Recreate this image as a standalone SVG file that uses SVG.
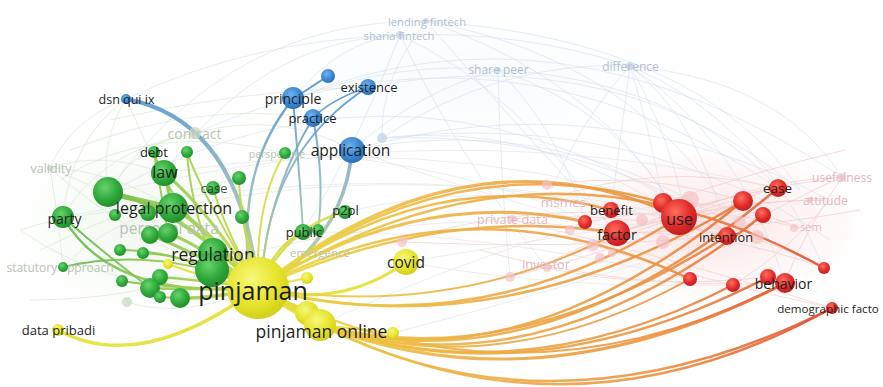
<svg xmlns="http://www.w3.org/2000/svg" width="883" height="387" viewBox="0 0 883 387">
<defs>
<radialGradient id="nG" cx="0.4" cy="0.35" r="0.7"><stop offset="0" stop-color="#66d46a"/><stop offset="0.6" stop-color="#2fa83b"/><stop offset="1" stop-color="#1e8a2a"/></radialGradient>
<radialGradient id="nY" cx="0.4" cy="0.35" r="0.7"><stop offset="0" stop-color="#f8f77a"/><stop offset="0.6" stop-color="#e6e42c"/><stop offset="1" stop-color="#cfcc1c"/></radialGradient>
<radialGradient id="nB" cx="0.4" cy="0.35" r="0.7"><stop offset="0" stop-color="#70b2ee"/><stop offset="0.6" stop-color="#3a86d2"/><stop offset="1" stop-color="#286bb4"/></radialGradient>
<radialGradient id="nR" cx="0.4" cy="0.35" r="0.7"><stop offset="0" stop-color="#ff6e5e"/><stop offset="0.6" stop-color="#e22a2a"/><stop offset="1" stop-color="#b91c1c"/></radialGradient>
<radialGradient id="hR"><stop offset="0" stop-color="#fbdede" stop-opacity="0.8"/><stop offset="1" stop-color="#fbdede" stop-opacity="0"/></radialGradient>
<radialGradient id="hG"><stop offset="0" stop-color="#e6f2e2" stop-opacity="0.55"/><stop offset="1" stop-color="#e6f2e2" stop-opacity="0"/></radialGradient>
<radialGradient id="hB"><stop offset="0" stop-color="#eef3fa" stop-opacity="0.4"/><stop offset="1" stop-color="#eef3fa" stop-opacity="0"/></radialGradient>
<linearGradient id="go" gradientUnits="userSpaceOnUse" x1="260" y1="0" x2="835" y2="0"><stop offset="0" stop-color="#e6de3c"/><stop offset="0.3" stop-color="#efb444"/><stop offset="0.7" stop-color="#ec9040"/><stop offset="1" stop-color="#e0482e"/></linearGradient>
<linearGradient id="gg" gradientUnits="userSpaceOnUse" x1="60" y1="0" x2="260" y2="0"><stop offset="0" stop-color="#5cb84a"/><stop offset="0.6" stop-color="#96cc50"/><stop offset="1" stop-color="#d2dc44"/></linearGradient>
<linearGradient id="gb" gradientUnits="userSpaceOnUse" x1="0" y1="80" x2="0" y2="280"><stop offset="0" stop-color="#4a8fd2"/><stop offset="0.5" stop-color="#8cb4c0"/><stop offset="1" stop-color="#b8d088"/></linearGradient>
<style>
text{font-family:"Open Sans","DejaVu Sans",sans-serif;dominant-baseline:central;text-anchor:middle}
.lb{fill:#1e1e1e}
.fg{fill:#b8c4b4}
.fb{fill:#b3bfd0}
.fr{fill:#e2b9be}
.wb{fill:none;stroke:#d3e0f0;stroke-width:1;opacity:0.6}
.wg{fill:none;stroke:#d8e9d2;stroke-width:1;opacity:0.7}
.wr{fill:none;stroke:#f4cccc;stroke-width:1;opacity:0.7}
.wn{fill:none;stroke:#e6e6e6;stroke-width:1;opacity:0.7}
.eo{fill:none;stroke:url(#go);opacity:0.9}
.eg{fill:none;stroke:url(#gg);opacity:0.9}
.eb{fill:none;stroke:url(#gb);opacity:0.9}
.ey{fill:none;stroke:#e4e030;opacity:0.9}
.G{fill:url(#nG)}
.Y{fill:url(#nY)}
.B{fill:url(#nB)}
.R{fill:url(#nR)}
.pk{fill:#f4c2c4;opacity:0.7}
.lbk{fill:#c6d6ea;opacity:0.8}
.lgk{fill:#c8dcc4;opacity:0.8}
</style>
</defs>
<rect width="883" height="387" fill="#ffffff"/>
<g id="haze">
<ellipse cx="710" cy="225" rx="160" ry="80" fill="url(#hR)"/>
<ellipse cx="140" cy="225" rx="130" ry="95" fill="url(#hG)"/>
<ellipse cx="470" cy="80" rx="220" ry="70" fill="url(#hB)"/>
</g>
<g id="connectors">
<g id="web">
<path class="wb" d="M426,21 Q700,40 800,190"/>
<path class="wb" d="M426,21 Q640,60 740,230"/>
<path class="wb" d="M426,21 Q600,80 680,218"/>
<path class="wb" d="M400,35 Q520,90 615,235"/>
<path class="wb" d="M400,35 Q340,40 293,99"/>
<path class="wb" d="M400,35 Q260,40 165,172"/>
<path class="wb" d="M426,21 Q230,20 109,190"/>
<path class="wb" d="M498,70 Q680,80 778,188"/>
<path class="wb" d="M498,70 Q620,110 680,218"/>
<path class="wb" d="M498,70 Q560,130 585,222"/>
<path class="wb" d="M498,70 Q420,90 352,150"/>
<path class="wb" d="M498,70 Q400,60 293,99"/>
<path class="wb" d="M630,66 Q780,80 842,177"/>
<path class="wb" d="M630,66 Q760,120 824,268"/>
<path class="wb" d="M630,66 Q700,120 727,236"/>
<path class="wb" d="M630,66 Q650,130 663,203"/>
<path class="wb" d="M630,66 Q620,140 611,210"/>
<path class="wb" d="M630,66 Q580,120 547,200"/>
<path class="wb" d="M630,66 Q520,30 400,35"/>
<path class="wb" d="M630,66 Q500,60 382,138"/>
<path class="wb" d="M630,66 Q740,140 785,283"/>
<path class="wb" d="M630,66 Q690,170 690,279"/>
<path class="wb" d="M382,138 Q540,120 680,218"/>
<path class="wb" d="M382,138 Q600,130 760,250"/>
<path class="wb" d="M382,138 Q640,110 830,240"/>
<path class="wb" d="M368,87 Q620,40 800,190"/>
<path class="wb" d="M352,150 Q560,110 740,230"/>
<path class="wb" d="M352,150 Q600,80 830,200"/>
<path class="wb" d="M293,99 Q560,-10 842,177"/>
<path class="wb" d="M126,99 Q250,40 400,35"/>
<path class="wb" d="M426,21 Q520,130 617,233"/>
<path class="wb" d="M400,35 Q460,160 547,268"/>
<path class="wb" d="M498,70 Q500,170 510,277"/>
<path class="wb" d="M426,21 Q380,80 382,138"/>
<path class="wb" d="M400,35 Q360,140 303,232"/>
<path class="wb" d="M195,133 Q500,0 778,188"/>
<path class="wb" d="M108,193 Q420,20 727,236"/>
<path class="wg" d="M50,168 Q110,170 173,208"/>
<path class="wg" d="M50,168 Q130,240 258,288"/>
<path class="wg" d="M50,168 Q100,150 164,173"/>
<path class="wg" d="M50,168 L108,193"/>
<path class="wg" d="M63,267 Q110,220 173,208"/>
<path class="wg" d="M195,133 Q250,170 258,288"/>
<path class="wg" d="M195,133 Q140,140 108,193"/>
<path class="wg" d="M195,133 Q100,150 63,217"/>
<path class="wg" d="M195,133 Q280,110 352,150"/>
<path class="wg" d="M126,99 Q70,140 63,217"/>
<path class="wg" d="M126,99 Q100,140 108,193"/>
<path class="wg" d="M126,99 Q150,150 173,208"/>
<path class="wg" d="M126,99 Q70,120 50,168"/>
<path class="wg" d="M20,230 Q80,210 173,208"/>
<path class="wg" d="M20,230 Q120,300 258,288"/>
<path class="wg" d="M50,168 Q60,230 63,267"/>
<path class="wg" d="M30,300 Q130,300 212,270"/>
<path class="wg" d="M60,180 Q150,120 285,153"/>
<path class="wg" d="M70,150 Q200,100 313,118"/>
<path class="wg" d="M110,120 Q240,90 368,87"/>
<path class="wg" d="M127,302 Q180,320 258,288"/>
<path class="wg" d="M40,250 Q140,200 239,178"/>
<path class="wr" d="M842,177 Q760,180 679,217"/>
<path class="wr" d="M842,177 Q730,190 617,233"/>
<path class="wr" d="M842,177 Q790,200 727,236"/>
<path class="wr" d="M825,200 Q750,200 679,217"/>
<path class="wr" d="M825,200 Q720,200 617,233"/>
<path class="wr" d="M800,228 Q730,200 663,203"/>
<path class="wr" d="M800,228 Q690,200 585,222"/>
<path class="wr" d="M824,268 Q750,230 679,217"/>
<path class="wr" d="M824,268 Q720,230 617,233"/>
<path class="wr" d="M547,200 Q660,160 778,188"/>
<path class="wr" d="M510,219 Q620,210 727,236"/>
<path class="wr" d="M546,264 Q660,220 778,188"/>
<path class="wr" d="M546,264 Q610,230 679,217"/>
<path class="wr" d="M510,219 Q680,260 832,308"/>
<path class="wr" d="M778,188 Q700,200 617,233"/>
<path class="wr" d="M842,177 Q800,240 785,283"/>
<path class="wr" d="M830,200 Q790,250 733,285"/>
<path class="wr" d="M402,242 Q520,200 679,217"/>
<path class="wr" d="M402,242 Q560,250 727,236"/>
<path class="wr" d="M547,185 Q640,170 743,201"/>
<path class="wr" d="M480,250 Q620,290 785,283"/>
<path class="wr" d="M510,277 Q620,250 743,201"/>
<path class="wr" d="M593,245 Q700,280 832,308"/>
<path class="wr" d="M547,268 Q650,290 768,277"/>
<path class="wr" d="M845,150 Q760,170 663,203"/>
<path class="wr" d="M860,210 Q750,230 617,233"/>
<path class="wn" d="M108,193 Q450,110 778,188"/>
<path class="wn" d="M173,208 Q450,150 727,236"/>
<path class="wn" d="M63,217 Q400,150 679,217"/>
<path class="wn" d="M212,262 Q450,200 617,233"/>
<path class="wn" d="M164,173 Q420,130 663,203"/>
<path class="wn" d="M303,232 Q480,230 690,279"/>
<path class="wn" d="M345,212 Q480,180 611,210"/>
<path class="wn" d="M352,150 Q470,190 585,222"/>
<path class="wn" d="M285,153 Q460,160 617,233"/>
<path class="wn" d="M406,262 Q540,240 679,217"/>
<path class="wn" d="M406,262 Q560,290 733,285"/>
<path class="wn" d="M393,333 Q560,290 727,236"/>
<path class="wn" d="M320,325 Q480,250 663,203"/>
</g>
<g id="edges-blue">
<path class="eb" stroke-width="4" d="M126,99 Q240,120 258,288"/>
<path class="eb" stroke-width="2.5" d="M293,99 Q235,170 250,280"/>
<path class="eb" stroke-width="2" d="M293,99 Q300,180 303,232"/>
<path class="eb" stroke-width="2" d="M313,118 Q325,180 318,230"/>
<path class="eb" stroke-width="2" d="M313,118 Q270,190 262,270"/>
<path class="eb" stroke-width="2" d="M368,87 Q270,150 262,275"/>
<path class="eb" stroke-width="3.5" d="M352,150 Q345,230 275,280"/>
<path class="eb" stroke-width="2" d="M328,76 L293,99"/>
<path class="eb" stroke-width="1.5" d="M368,87 Q330,100 313,118"/>
</g>
<g id="edges-green">
<path class="eg" stroke-width="6" d="M258,288 L212,262"/>
<path class="eg" stroke-width="5" d="M258,288 L212,270"/>
<path class="eg" stroke-width="3" d="M258,288 Q200,200 164,173"/>
<path class="eg" stroke-width="4" d="M258,288 Q205,225 173,208"/>
<path class="eg" stroke-width="4" d="M258,288 Q170,200 108,193"/>
<path class="eg" stroke-width="5" d="M173,208 L108,193"/>
<path class="eg" stroke-width="3.5" d="M164,173 L173,208"/>
<path class="eg" stroke-width="2.5" d="M258,288 Q110,300 63,217"/>
<path class="eg" stroke-width="2" d="M258,288 Q170,210 154,152"/>
<path class="eg" stroke-width="2" d="M258,288 Q200,190 187,152"/>
<path class="eg" stroke-width="2" d="M258,288 Q225,230 213,188"/>
<path class="eg" stroke-width="2" d="M258,288 Q240,220 239,178"/>
<path class="eg" stroke-width="2" d="M258,288 Q250,250 242,217"/>
<path class="eg" stroke-width="2" d="M258,288 Q255,200 285,153"/>
<path class="eg" stroke-width="2.5" d="M258,288 Q275,245 303,232"/>
<path class="eg" stroke-width="2.5" d="M258,288 Q290,225 345,212"/>
<path class="eg" stroke-width="2" d="M258,288 Q160,245 63,267"/>
<path class="eg" stroke-width="2" d="M258,288 Q180,250 120,250"/>
<path class="eg" stroke-width="2" d="M258,288 Q190,255 143,253"/>
<path class="eg" stroke-width="3" d="M258,288 Q190,250 150,235"/>
<path class="eg" stroke-width="3" d="M258,288 Q200,245 168,233"/>
<path class="eg" stroke-width="2.5" d="M258,288 Q200,280 160,277"/>
<path class="eg" stroke-width="2.5" d="M258,288 Q190,290 150,288"/>
<path class="eg" stroke-width="2" d="M258,288 Q180,290 122,281"/>
<path class="eg" stroke-width="2" d="M258,288 Q200,300 160,297"/>
<path class="eg" stroke-width="3" d="M258,288 Q210,300 180,298"/>
<path class="eg" stroke-width="2" d="M63,217 Q100,250 150,288"/>
<path class="eg" stroke-width="2" d="M154,152 L168,233"/>
<path class="eg" stroke-width="2" d="M187,152 Q190,200 212,262"/>
</g>
<g id="edges-yellow">
<path class="ey" stroke-width="7" d="M258,288 L320,325"/>
<path class="ey" stroke-width="4" d="M258,288 L307,313"/>
<path class="ey" stroke-width="3" d="M258,288 Q340,310 406,262"/>
<path class="ey" stroke-width="3.5" d="M258,288 Q140,375 58,330"/>
<path class="ey" stroke-width="2" d="M258,288 L307,278"/>
<path class="ey" stroke-width="2" d="M320,325 L393,333"/>
<path class="ey" stroke-width="2" d="M258,288 Q210,280 168,264"/>
</g>
<g id="edges-orange">
<path class="eo" stroke-width="3" d="M258,288 Q470,120 679,217"/>
<path class="eo" stroke-width="2.5" d="M258,288 Q450,140 663,203"/>
<path class="eo" stroke-width="2.5" d="M258,288 Q430,160 611,210"/>
<path class="eo" stroke-width="3" d="M258,288 Q420,185 585,222"/>
<path class="eo" stroke-width="2.5" d="M258,288 Q440,205 617,233"/>
<path class="eo" stroke-width="2.5" d="M258,288 Q540,110 824,268"/>
<path class="eo" stroke-width="2.5" d="M258,288 Q470,175 690,279"/>
<path class="eo" stroke-width="2.5" d="M320,325 Q540,390 778,188"/>
<path class="eo" stroke-width="2.5" d="M320,325 Q520,385 743,201"/>
<path class="eo" stroke-width="2.5" d="M320,325 Q535,395 763,215"/>
<path class="eo" stroke-width="2.5" d="M320,325 Q510,375 727,236"/>
<path class="eo" stroke-width="2.5" d="M258,288 Q480,345 679,217"/>
<path class="eo" stroke-width="2" d="M258,288 Q450,320 617,233"/>
<path class="eo" stroke-width="2.5" d="M258,288 Q500,350 743,201"/>
<path class="eo" stroke-width="3" d="M320,325 Q540,410 785,283"/>
<path class="eo" stroke-width="2.5" d="M320,325 Q530,400 768,277"/>
<path class="eo" stroke-width="2.5" d="M320,325 Q520,395 733,285"/>
<path class="eo" stroke-width="2.5" d="M320,325 Q560,445 832,308"/>
<path class="eo" stroke-width="2" d="M258,288 Q520,420 785,283"/>
<path class="eo" stroke-width="2.5" d="M258,288 Q540,470 832,308"/>
<path class="eo" stroke-width="2" d="M320,325 Q500,385 690,279"/>
</g>
</g>
<g id="nodes">
<g id="faint-nodes">
<circle class="lbk" cx="426" cy="21" r="3"/>
<circle class="lbk" cx="400" cy="35" r="4"/>
<circle class="lbk" cx="498" cy="70" r="3"/>
<circle class="lbk" cx="630" cy="66" r="4"/>
<circle class="lbk" cx="382" cy="138" r="5"/>
<circle class="lgk" cx="195" cy="133" r="6"/>
<circle class="lgk" cx="50" cy="168" r="3"/>
<circle class="lgk" cx="127" cy="302" r="5"/>
<circle class="pk" cx="402" cy="242" r="5"/>
<circle class="pk" cx="547" cy="185" r="5"/>
<circle class="pk" cx="593" cy="245" r="6"/>
<circle class="pk" cx="600" cy="258" r="5"/>
<circle class="pk" cx="612" cy="253" r="4"/>
<circle class="pk" cx="663" cy="242" r="7"/>
<circle class="pk" cx="690" cy="200" r="9"/>
<circle class="pk" cx="757" cy="237" r="7"/>
<circle class="pk" cx="740" cy="222" r="6"/>
<circle class="pk" cx="794" cy="228" r="4"/>
<circle class="pk" cx="842" cy="177" r="4"/>
<circle class="pk" cx="810" cy="200" r="3"/>
<circle class="pk" cx="510" cy="277" r="5"/>
<circle class="pk" cx="547" cy="268" r="4"/>
<circle class="pk" cx="512" cy="219" r="4"/>
<circle class="pk" cx="570" cy="230" r="5"/>
<circle class="pk" cx="642" cy="220" r="6"/>
</g>
<g id="faint-labels">
<text class="fg" x="194.5" y="133" font-size="14">contract</text>
<text class="fg" x="51" y="168" font-size="12.5">validity</text>
<text class="fg" x="169" y="228" font-size="15.5">personal data</text>
<text class="fg" x="60" y="267" font-size="12">statutory approach</text>
<text class="fg" x="277" y="154" font-size="10.5">perspective</text>
<text class="fg" x="320" y="252" font-size="11.5">emergence</text>
<text class="fb" x="427" y="21" font-size="11.3">lending fintech</text>
<text class="fb" x="399" y="35" font-size="11.2">sharia fintech</text>
<text class="fb" x="498.5" y="69" font-size="12">share peer</text>
<text class="fb" x="630.5" y="66" font-size="12">difference</text>
<text class="fr" x="563.5" y="202" font-size="13.5">msmes</text>
<text class="fr" x="512.5" y="219" font-size="12.7">private data</text>
<text class="fr" x="546" y="264" font-size="12.7">investor</text>
<text class="fr" x="842" y="177" font-size="12">usefulness</text>
<text class="fr" x="825.5" y="200" font-size="12.3">attitude</text>
<text class="fr" x="811" y="226" font-size="11.2">sem</text>
</g>
<g id="n-small-green">
<circle class="G" cx="187" cy="152" r="6"/>
<circle class="G" cx="239" cy="178" r="7"/>
<circle class="G" cx="242" cy="217" r="7"/>
<circle class="G" cx="115" cy="215" r="6"/>
<circle class="G" cx="148" cy="213" r="8"/>
<circle class="G" cx="150" cy="235" r="9"/>
<circle class="G" cx="168" cy="233" r="10"/>
<circle class="G" cx="120" cy="250" r="6"/>
<circle class="G" cx="143" cy="253" r="6"/>
<circle class="G" cx="160" cy="277" r="8"/>
<circle class="G" cx="122" cy="281" r="6"/>
<circle class="G" cx="150" cy="288" r="10"/>
<circle class="G" cx="160" cy="297" r="6"/>
<circle class="G" cx="180" cy="298" r="10"/>
<circle class="G" cx="108" cy="192" r="15"/>
</g>
<g id="n-small-other">
<circle class="B" cx="328" cy="76" r="7"/>
<circle class="Y" cx="307" cy="278" r="6"/>
<circle class="Y" cx="168" cy="264" r="5"/>
<circle class="Y" cx="393" cy="333" r="6"/>
<circle class="R" cx="585" cy="222" r="7"/>
<circle class="R" cx="663" cy="203" r="10"/>
<circle class="R" cx="743" cy="201" r="10"/>
<circle class="R" cx="763" cy="215" r="8"/>
<circle class="R" cx="824" cy="268" r="6"/>
<circle class="R" cx="733" cy="285" r="7"/>
<circle class="R" cx="690" cy="279" r="7"/>
</g>
<g id="n-perspective"><circle class="G" cx="285" cy="153" r="6"/></g>
<g id="n-dsn-qui-ix"><circle class="B" cx="126" cy="99" r="5"/><text class="lb" x="126.5" y="99" font-size="12.5">dsn qui ix</text></g>
<g id="n-principle"><circle class="B" cx="293" cy="98" r="11"/><text class="lb" x="293" y="98" font-size="14">principle</text></g>
<g id="n-existence"><circle class="B" cx="368" cy="87" r="8"/><text class="lb" x="369" y="87" font-size="13">existence</text></g>
<g id="n-practice"><circle class="B" cx="313" cy="118" r="9"/><text class="lb" x="312.5" y="118" font-size="13">practice</text></g>
<g id="n-application"><circle class="B" cx="352" cy="150" r="13"/><text class="lb" x="350.5" y="150" font-size="15.5">application</text></g>
<g id="n-debt"><circle class="G" cx="154" cy="152" r="6"/><text class="lb" x="154" y="152" font-size="13">debt</text></g>
<g id="n-law"><circle class="G" cx="164" cy="173" r="13"/><text class="lb" x="165" y="172" font-size="16">law</text></g>
<g id="n-case"><circle class="G" cx="213" cy="188" r="7"/><text class="lb" x="214" y="188" font-size="13" fill-opacity="0.8">case</text></g>
<g id="n-legal-protection"><circle class="G" cx="173" cy="208" r="15"/><text class="lb" x="174" y="208" font-size="16">legal protection</text></g>
<g id="n-party"><circle class="G" cx="63" cy="217" r="11"/><text class="lb" x="64.5" y="218" font-size="14">party</text></g>
<g id="n-statutory-approach"><circle class="G" cx="63" cy="267" r="5"/></g>
<g id="n-p2pl"><circle class="G" cx="345" cy="212" r="7"/><text class="lb" x="345.5" y="210" font-size="13">p2pl</text></g>
<g id="n-public"><circle class="G" cx="303" cy="232" r="8"/><circle class="G" cx="318" cy="230" r="6"/><text class="lb" x="304" y="232" font-size="13">public</text></g>
<g id="n-regulation"><circle class="G" cx="213" cy="253" r="15"/><circle class="G" cx="212" cy="270" r="17"/><text class="lb" x="213" y="254" font-size="17.5">regulation</text></g>
<g id="n-covid"><circle class="Y" cx="406" cy="262" r="13"/><text class="lb" x="406" y="262" font-size="15.5">covid</text></g>
<g id="n-data-pribadi"><circle class="Y" cx="58" cy="330" r="6"/><text class="lb" x="58.5" y="330" font-size="13">data pribadi</text></g>
<g id="n-pinjaman-online"><circle class="Y" cx="307" cy="313" r="12"/><circle class="Y" cx="320" cy="325" r="16"/><text class="lb" x="321.5" y="331" font-size="17.5">pinjaman online</text></g>
<g id="n-pinjaman"><circle class="Y" cx="258" cy="288" r="31"/><text class="lb" x="253" y="290" font-size="25">pinjaman</text></g>
<g id="n-benefit"><circle class="R" cx="611" cy="210" r="8"/><text class="lb" x="611.5" y="210" font-size="13">benefit</text></g>
<g id="n-factor"><circle class="R" cx="617" cy="233" r="13"/><text class="lb" x="617" y="234" font-size="14.5">factor</text></g>
<g id="n-use"><circle class="R" cx="679" cy="217" r="18"/><text class="lb" x="679.5" y="218" font-size="16.5">use</text></g>
<g id="n-intention"><circle class="R" cx="727" cy="236" r="9"/><text class="lb" x="726" y="237" font-size="12.8">intention</text></g>
<g id="n-ease"><circle class="R" cx="778" cy="188" r="9"/><text class="lb" x="777.5" y="188" font-size="13.4">ease</text></g>
<g id="n-behavior"><circle class="R" cx="768" cy="277" r="8"/><circle class="R" cx="785" cy="283" r="10"/><text class="lb" x="783.5" y="283" font-size="14">behavior</text></g>
<g id="n-demographic-factor"><circle class="R" cx="832" cy="308" r="6"/><text class="lb" x="828" y="308" font-size="11.6">demographic facto</text></g>
</g>
</svg>
